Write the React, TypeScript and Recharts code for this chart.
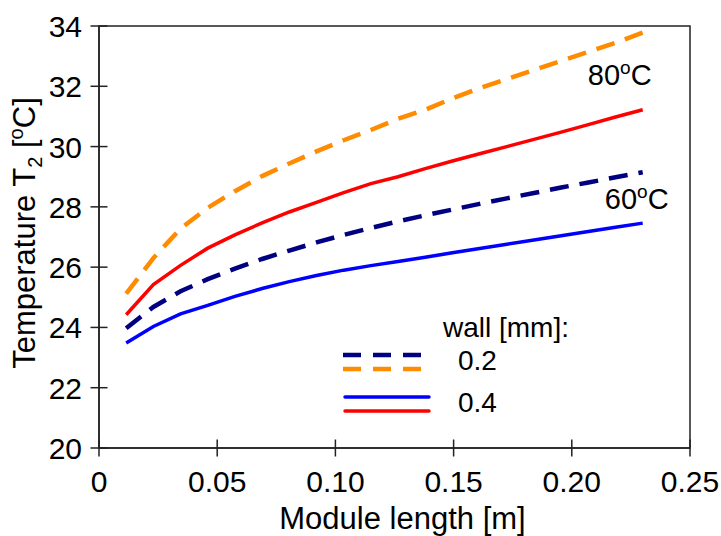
import React from "react";
import { LineChart, Line, XAxis, YAxis, ReferenceArea, LabelList } from "recharts";

// module length along the channel [m]
const lengthM = [
  0.0115, 0.023, 0.0345, 0.046, 0.0575, 0.069, 0.0805, 0.092, 0.1035, 0.115,
  0.1265, 0.138, 0.1495, 0.161, 0.1725, 0.184, 0.1955, 0.207, 0.2185, 0.23,
];

// outlet temperature T2 [°C]
const t60Wall02 = [
  23.97, 24.68, 25.2, 25.6, 25.95, 26.27, 26.55, 26.82, 27.07, 27.3,
  27.52, 27.72, 27.91, 28.1, 28.28, 28.46, 28.64, 28.81, 28.98, 29.15,
];
const t60Wall04 = [
  23.48, 24.03, 24.45, 24.73, 25.03, 25.29, 25.52, 25.72, 25.9, 26.05,
  26.19, 26.33, 26.48, 26.62, 26.76, 26.9, 27.04, 27.18, 27.32, 27.46,
];
const t80Wall02 = [
  25.12, 26.3, 27.28, 27.97, 28.52, 29.02, 29.44, 29.84, 30.21, 30.55,
  30.92, 31.22, 31.6, 31.94, 32.24, 32.54, 32.84, 33.14, 33.44, 33.78,
];
const t80Wall04 = [
  24.42, 25.42, 26.06, 26.63, 27.07, 27.47, 27.83, 28.15, 28.47, 28.77,
  29.0, 29.27, 29.52, 29.76, 30.0, 30.24, 30.48, 30.73, 30.98, 31.22,
];

const xTicks = [0, 0.05, 0.1, 0.15, 0.2, 0.25];
const xTickLabels = ["0", "0.05", "0.10", "0.15", "0.20", "0.25"];
const yTicks = [20, 22, 24, 26, 28, 30, 32, 34];

const data = lengthM.map((x, i) => ({
  x,
  t60Wall02: t60Wall02[i],
  t60Wall04: t60Wall04[i],
  t80Wall02: t80Wall02[i],
  t80Wall04: t80Wall04[i],
}));

const FONT = '"Liberation Sans", Arial, sans-serif';

const series = [
  { key: "t80Wall02", color: "#FF8C00", dash: "19 11", width: 4.5 },
  { key: "t80Wall04", color: "#FF0000", dash: undefined, width: 3.5 },
  { key: "t60Wall02", color: "#000080", dash: "19 11", width: 4.5 },
  { key: "t60Wall04", color: "#0000FF", dash: undefined, width: 3.5 },
];

const XTick = (props: any) => {
  const { x, y, payload } = props;
  const idx = xTicks.indexOf(payload.value);
  return (
    <g>
      <line x1={x} y1={y - 8.5} x2={x} y2={y + 8.5} stroke="#222" strokeWidth={1.5} />
      <text x={x} y={y + 44} textAnchor="middle" fontSize={30} fontFamily={FONT} fill="#000">
        {xTickLabels[idx] ?? payload.value}
      </text>
    </g>
  );
};

const YTick = (props: any) => {
  const { x, y, payload } = props;
  return (
    <g>
      <line x1={x - 8.5} y1={y} x2={x + 8.5} y2={y} stroke="#222" strokeWidth={1.5} />
      <text x={x - 17} y={y + 11} textAnchor="end" fontSize={30} fontFamily={FONT} fill="#000">
        {payload.value}
      </text>
    </g>
  );
};

const XTitle = (props: any) => {
  const { x, y, width } = props.viewBox;
  return (
    <text x={x + width / 2 + 8} y={y + 81} textAnchor="middle" fontSize={31} fontFamily={FONT} fill="#000">
      Module length [m]
    </text>
  );
};

const YTitle = () => (
  <text
    transform="translate(35, 233) rotate(-90)"
    textAnchor="middle"
    fontSize={31}
    fontFamily={FONT}
    fill="#000"
  >
    Temperature T<tspan dy={7} fontSize={20}>2</tspan>
    <tspan dy={-7}> [</tspan>
    <tspan dy={-12} fontSize={20}>o</tspan>
    <tspan dy={12}>C]</tspan>
  </text>
);

// curve tag at the last point of a solid line
const endTag = (text: string, dx: number, dy: number) => (props: any) => {
  const { x, y, index } = props;
  if (index !== lengthM.length - 1) return null;
  return (
    <text x={x + dx} y={y + dy} textAnchor="middle" fontSize={29} fontFamily={FONT} fill="#000">
      {text}
      <tspan dy={-11} fontSize={19}>o</tspan>
      <tspan dy={11}>C</tspan>
    </text>
  );
};

const WallLegend = () => (
  <svg width={721} height={536} style={{ position: "absolute", left: 0, top: 0, pointerEvents: "none" }}>
    <text x={443} y={337} fontSize={28} fontFamily={FONT}>wall [mm]:</text>
    <line x1={343} y1={355} x2={427} y2={355} stroke="#000080" strokeWidth={4.5} strokeDasharray="18 12" />
    <line x1={343} y1={369} x2={427} y2={369} stroke="#FF8C00" strokeWidth={4.5} strokeDasharray="18 12" />
    <text x={458} y={370} fontSize={28} fontFamily={FONT}>0.2</text>
    <line x1={345} y1={397} x2={429} y2={397} stroke="#0000FF" strokeWidth={3.5} strokeLinecap="round" />
    <line x1={345} y1={411} x2={429} y2={411} stroke="#FF0000" strokeWidth={3.5} strokeLinecap="round" />
    <text x={458} y={412} fontSize={28} fontFamily={FONT}>0.4</text>
  </svg>
);

export default function App() {
  return (
    <div style={{ position: "absolute", left: 0, top: 0, width: 721, height: 536, background: "#fff" }}>
      <LineChart width={721} height={536} data={data} margin={{ top: 26, right: 31, left: 0, bottom: 0 }}>
        <XAxis
          dataKey="x"
          type="number"
          domain={[0, 0.25]}
          ticks={xTicks}
          tick={<XTick />}
          tickLine={false}
          tickSize={0}
          tickMargin={0}
          height={88}
          axisLine={{ stroke: "#222", strokeWidth: 1.5 }}
          label={<XTitle />}
        />
        <YAxis
          type="number"
          domain={[20, 34]}
          ticks={yTicks}
          tick={<YTick />}
          tickLine={false}
          tickSize={0}
          tickMargin={0}
          width={99}
          axisLine={{ stroke: "#222", strokeWidth: 1.5 }}
          label={<YTitle />}
        />
        <ReferenceArea x1={0} x2={0.25} y1={20} y2={34} fill="none" stroke="#222" strokeWidth={1.5} ifOverflow="visible" />
        {series.map((s) => (
          <Line
            key={s.key}
            dataKey={s.key}
            type="linear"
            stroke={s.color}
            strokeWidth={s.width}
            strokeDasharray={s.dash}
            dot={false}
            activeDot={false}
            isAnimationActive={false}
          >
            {s.key === "t80Wall04" && <LabelList content={endTag("80", -23, -25)} />}
            {s.key === "t60Wall04" && <LabelList content={endTag("60", -6, -14)} />}
          </Line>
        ))}
      </LineChart>
      <WallLegend />
    </div>
  );
}
